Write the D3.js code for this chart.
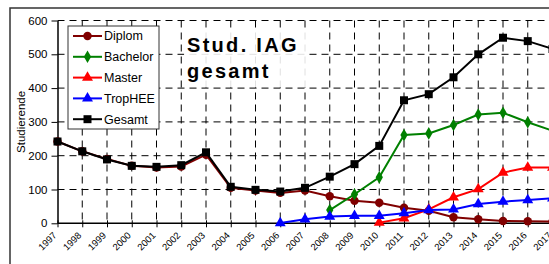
<!DOCTYPE html>
<html>
<head>
<meta charset="utf-8">
<script src="https://cdn.jsdelivr.net/npm/d3@7"></script>
<style>
  body { margin: 0; background: #fff; }
  svg { display: block; font-family: "Liberation Sans", Arial, sans-serif; }
</style>
</head>
<body>
<div id="vizcont"></div>
<script>
// data
var years = ["1997","1998","1999","2000","2001","2002","2003","2004","2005","2006","2007",
             "2008","2009","2010","2011","2012","2013","2014","2015","2016","2017"];
var diplom   = [242,213,190,170,165,168,203,105,97,90,97,80,67,61,46,37,18,12,7,6,5];
var bachelor = [null,null,null,null,null,null,null,null,null,null,null,
                39,86,136,261,266,291,322,327,299,274];
var master   = [null,null,null,null,null,null,null,null,null,null,null,null,null,
                2,15,41,77,101,150,165,165];
var tropHEE  = [null,null,null,null,null,null,null,null,null,
                1,12,20,22,22,30,39,41,57,64,69,74];
var gesamt   = [242,213,189,170,167,172,210,108,99,94,105,138,175,229,364,382,432,500,549,539,516];
var yTicks   = [0,100,200,300,400,500,600];

var seriesNames = ["Diplom","Bachelor","Master","TropHEE","Gesamt"];
var seriesVals  = [diplom, bachelor, master, tropHEE, gesamt];
var colors  = ["#800000","#008000","#ff0000","#0000ff","#000000"];
var symbols = [d3.symbolCircle, d3.symbolDiamond, d3.symbolTriangle, d3.symbolTriangle, d3.symbolSquare];
var symSize = [56, 46, 52, 52, 64];

var width = 549, height = 264;

var svg = d3.select("#vizcont")
    .append("svg")
    .attr("width", width)
    .attr("height", height);

// outer chart border (cut off on right and bottom)
svg.append("rect")
    .attr("x", 10).attr("y", 8)
    .attr("width", 600).attr("height", 300)
    .attr("fill", "none")
    .attr("stroke", "#333")
    .attr("stroke-width", 1.5);

var x = d3.scalePoint()
    .domain(years)
    .range([57.5, 552.5]);

var y = d3.scaleLinear()
    .domain([0, 600])
    .range([223.3, 20.5]);

// grid lines
var grid = svg.append("g")
    .attr("stroke", "#000")
    .attr("stroke-width", 1)
    .attr("stroke-dasharray", "7,5");

grid.selectAll("line.h")
    .data(yTicks.slice(1))
    .enter()
    .append("line")
    .attr("x1", x(years[0])).attr("x2", width)
    .attr("y1", function(d) { return y(d); })
    .attr("y2", function(d) { return y(d); });

grid.selectAll("line.v")
    .data(years.slice(1))
    .enter()
    .append("line")
    .attr("x1", function(d) { return x(d); })
    .attr("x2", function(d) { return x(d); })
    .attr("y1", y(600)).attr("y2", y(0));

// title box, semi transparent white
svg.append("rect")
    .attr("x", 184).attr("y", 30)
    .attr("width", 123).attr("height", 57)
    .attr("fill", "#fff")
    .attr("opacity", 0.88);

svg.append("text")
    .attr("x", 187).attr("y", 52)
    .attr("font-size", 20).attr("font-weight", "bold")
    .attr("letter-spacing", 2.3)
    .text("Stud. IAG");
svg.append("text")
    .attr("x", 187).attr("y", 78)
    .attr("font-size", 20).attr("font-weight", "bold")
    .attr("letter-spacing", 2.3)
    .text("gesamt");

// y axis
var yAxis = svg.append("g")
    .attr("transform", "translate(" + x(years[0]) + ",0)")
    .call(d3.axisLeft(y).tickValues(yTicks).tickSize(6).tickSizeOuter(0).tickPadding(4));
yAxis.select(".domain").attr("stroke", "#000").attr("stroke-width", 1.5);
yAxis.selectAll(".tick line").attr("stroke", "#000");
yAxis.selectAll("text")
    .attr("font-size", 11.5)
    .attr("font-family", "Liberation Sans, Arial, sans-serif")
    .attr("fill", "#000");

// x axis
var xAxis = svg.append("g")
    .attr("transform", "translate(0," + y(0) + ")")
    .call(d3.axisBottom(x).tickSize(4).tickSizeOuter(0).tickFormat(""));
xAxis.select(".domain").attr("stroke", "#000").attr("stroke-width", 1.5)
    .attr("d", "M" + x(years[0]) + ",0H" + width);
xAxis.selectAll(".tick line").attr("stroke", "#000").attr("y1", -3);

svg.append("g")
    .selectAll("text")
    .data(years)
    .enter()
    .append("text")
    .attr("transform", function(d) {
        return "translate(" + (x(d) - 5) + "," + (y(0) + 8) + ") rotate(-45)";
    })
    .attr("text-anchor", "end")
    .attr("dy", "0.7em")
    .attr("font-size", 9.5)
    .text(function(d) { return d; });

// axis title
svg.append("text")
    .attr("transform", "translate(25," + ((y(0) + y(600)) / 2) + ") rotate(-90)")
    .attr("text-anchor", "middle")
    .attr("font-size", 11.5)
    .text("Studierende");

// series
var line = d3.line()
    .defined(function(d) { return d.v != null; })
    .x(function(d) { return x(d.year); })
    .y(function(d) { return y(d.v); });

seriesNames.forEach(function(name, i) {
    var pts = years.map(function(yr, j) { return { year: yr, v: seriesVals[i][j] }; });
    var g = svg.append("g");
    g.append("path")
        .datum(pts)
        .attr("fill", "none")
        .attr("stroke", colors[i])
        .attr("stroke-width", 2)
        .attr("d", line);
    g.selectAll("path.m")
        .data(pts.filter(function(d) { return d.v != null; }))
        .enter()
        .append("path")
        .attr("transform", function(d) { return "translate(" + x(d.year) + "," + y(d.v) + ")"; })
        .attr("d", d3.symbol().type(symbols[i]).size(symSize[i]))
        .attr("fill", colors[i]);
});

// legend
var legend = svg.append("g");
legend.append("rect")
    .attr("x", 68).attr("y", 26)
    .attr("width", 91).attr("height", 103)
    .attr("fill", "#fff")
    .attr("stroke", "#333")
    .attr("stroke-width", 1);

var items = legend.selectAll("g")
    .data(seriesNames)
    .enter()
    .append("g")
    .attr("transform", function(d, i) { return "translate(0," + (36 + i * 20.8) + ")"; });

items.append("line")
    .attr("x1", 73).attr("x2", 102)
    .attr("stroke", function(d, i) { return colors[i]; })
    .attr("stroke-width", 2);
items.append("path")
    .attr("transform", "translate(87.5,0)")
    .attr("d", function(d, i) { return d3.symbol().type(symbols[i]).size(symSize[i])(); })
    .attr("fill", function(d, i) { return colors[i]; });
items.append("text")
    .attr("x", 104)
    .attr("dy", "0.35em")
    .attr("font-size", 12.5)
    .text(function(d) { return d; });
</script>
</body>
</html>
